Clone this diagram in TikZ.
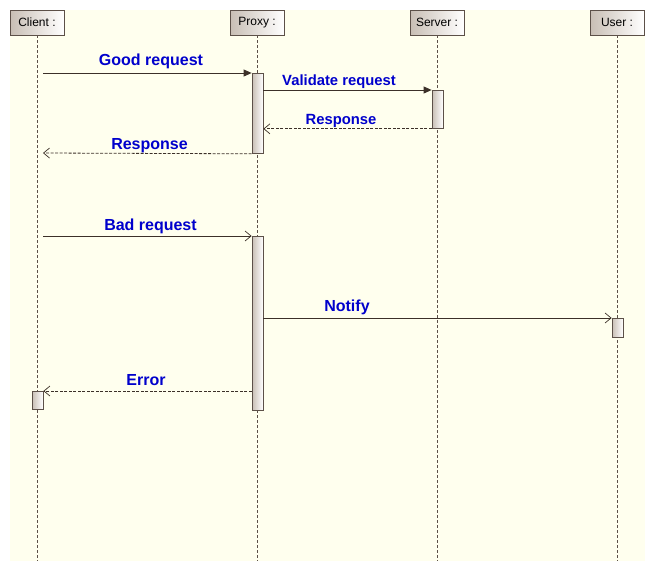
\documentclass[tikz,border=0pt]{standalone}
\usepackage{fontspec}
\setmainfont{Liberation Sans}
\usetikzlibrary{arrows.meta}
\definecolor{bgyellow}{HTML}{FFFFEE}
\definecolor{lineb}{HTML}{3C3028}
\definecolor{boxb}{HTML}{5C5048}
\definecolor{boxl}{HTML}{C8BEB4}
\definecolor{lblue}{HTML}{0000CC}
\begin{document}
\begin{tikzpicture}[x=1pt,y=-1pt,
  objbox/.style={draw=boxb, line width=0.8pt, left color=boxl, right color=white, minimum width=54pt, minimum height=25pt, inner sep=0pt, font=\fontsize{12}{14}\selectfont, text=black},
  actbox/.style={draw=boxb, line width=0.8pt, left color=boxl, right color=white, minimum width=11pt, inner sep=0pt},
  lifeline/.style={draw=boxb, dashed, dash pattern=on 3pt off 2pt, line width=0.6pt},
  syncmsg/.style={draw=lineb, line width=0.8pt, -{Triangle[length=8pt,width=7pt]}},
  asyncmsg/.style={draw=lineb, line width=0.8pt, -{Straight Barb[length=6pt,width=10pt,line width=0.7pt]}},
  retmsg/.style={draw=lineb, line width=0.8pt, dash pattern=on 3pt off 1.5pt, -{Straight Barb[length=6pt,width=10pt,line width=0.7pt,sep=0pt]}},
  bigl/.style={text=lblue, font=\bfseries\fontsize{16}{18}\selectfont, inner sep=0pt},
  smalll/.style={text=lblue, font=\bfseries\fontsize{14.8}{17}\selectfont, inner sep=0pt}
]
\useasboundingbox (0,0) rectangle (655,571);
\fill[white] (0,0) rectangle (655,571);
\fill[bgyellow] (10,10) rectangle (645,561);

% lifeline ends
\coordinate (cE) at (37,561);
\coordinate (pE) at (257,561);
\coordinate (sE) at (437,561);
\coordinate (uE) at (617,561);

% objects
\node[objbox] (client) at (37,22.5) {\raisebox{-1pt}{Client :}};
\node[objbox] (proxy) at (257,22.5) {\raisebox{-1pt}{Proxy :}};
\node[objbox] (server) at (437,22.5) {\raisebox{-1pt}{Server :}};
\node[objbox] (user) at (617,22.5) {\raisebox{-1pt}{User :}};

\draw[lifeline] (client.south) -- (cE);
\draw[lifeline] (proxy.south) -- (pE);
\draw[lifeline] (server.south) -- (sE);
\draw[lifeline] (user.south) -- (uE);

% activations
\node[actbox, minimum height=80pt, anchor=north] (pa1) at (257.5,73) {};
\node[actbox, minimum height=38pt, anchor=north] (sa1) at (437.5,90) {};
\node[actbox, minimum height=174pt, anchor=north] (pa2) at (257.5,236) {};
\node[actbox, minimum height=19pt, anchor=north] (ua1) at (617.5,318) {};
\node[actbox, minimum height=18pt, anchor=north] (ca1) at (37.5,391) {};

% message endpoints on client lifeline
\coordinate (c1) at (43,73);
\coordinate (c2) at (43,153);
\coordinate (c3) at (43,236);

% messages
\draw[syncmsg] (c1) -- (pa1.north west);
\draw[syncmsg] (pa1.east |- sa1.north) -- (sa1.north west);
\draw[retmsg] (sa1.south west) -- (pa1.east |- sa1.south);
\draw[retmsg] (pa1.south west) -- (c2);
\draw[asyncmsg] (c3) -- (pa2.north west);
\draw[asyncmsg] (pa2.east |- ua1.north) -- (ua1.north west);
\draw[retmsg] (pa2.west |- ca1.north) -- (ca1.north east);

% labels
\node[bigl] (lgood) at (151,61) {Good request};
\node[smalll] (lval) at (339,82) {Validate request};
\node[smalll] (lresp1) at (341,120.5) {Response};
\node[bigl] (lresp2) at (149.5,145.5) {Response};
\node[bigl] (lbad) at (150.5,226.5) {Bad request};
\node[bigl] (lnot) at (347,307.5) {Notify};
\node[bigl] (lerr) at (146,380.5) {Error};
\end{tikzpicture}
\end{document}
